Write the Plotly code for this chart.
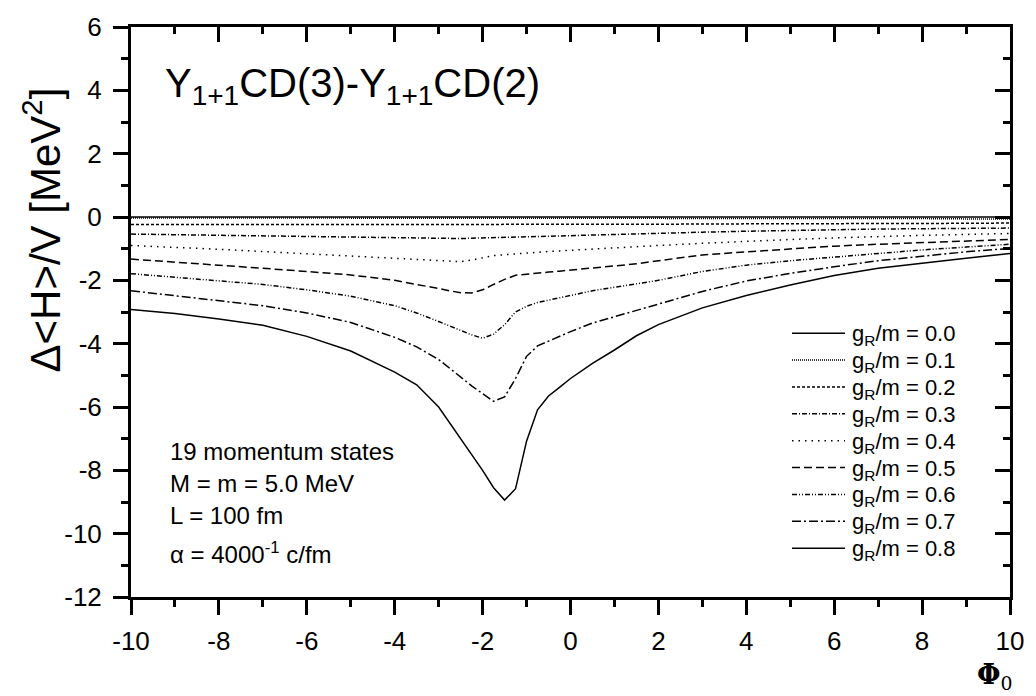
import plotly.graph_objects as go

# ---------------- data ----------------
phi0 = [-10, -9, -8, -7, -6, -5, -4, -3.5, -3, -2.75, -2.5, -2.25, -2, -1.75, -1.5, -1.25,
        -1, -0.75, -0.5, -0.25, 0, 0.5, 1, 1.5, 2, 3, 4, 5, 6, 7, 8, 9, 10]

g00 = [0.0] * 33
g01 = [-0.03, -0.03, -0.03, -0.03, -0.03, -0.03, -0.03, -0.03, -0.03, -0.03, -0.03, -0.03,
       -0.03, -0.03, -0.03, -0.03, -0.03, -0.03, -0.03, -0.03, -0.03, -0.03, -0.03, -0.03,
       -0.03, -0.04, -0.04, -0.04, -0.05, -0.05, -0.05, -0.06, -0.06]
g02 = [-0.24, -0.24, -0.24, -0.24, -0.25, -0.25, -0.25, -0.25, -0.25, -0.25, -0.25, -0.25,
       -0.25, -0.25, -0.25, -0.25, -0.25, -0.25, -0.25, -0.25, -0.25, -0.24, -0.24, -0.23,
       -0.23, -0.22, -0.22, -0.21, -0.21, -0.2, -0.2, -0.2, -0.19]
g03 = [-0.54, -0.56, -0.58, -0.6, -0.62, -0.64, -0.67, -0.68, -0.69, -0.69, -0.68, -0.67,
       -0.66, -0.65, -0.64, -0.63, -0.62, -0.61, -0.6, -0.59, -0.58, -0.56, -0.55, -0.53,
       -0.51, -0.48, -0.45, -0.42, -0.4, -0.38, -0.37, -0.36, -0.35]
g04 = [-0.9, -0.95, -1.02, -1.09, -1.16, -1.23, -1.3, -1.34, -1.39, -1.41, -1.41, -1.36,
       -1.28, -1.22, -1.19, -1.16, -1.13, -1.11, -1.09, -1.07, -1.05, -1.0, -0.98, -0.94,
       -0.9, -0.83, -0.76, -0.71, -0.66, -0.61, -0.58, -0.55, -0.52]
g05 = [-1.33, -1.42, -1.52, -1.62, -1.72, -1.83, -2.0, -2.12, -2.26, -2.33, -2.39, -2.4,
       -2.3, -2.13, -1.97, -1.84, -1.8, -1.77, -1.74, -1.71, -1.68, -1.62, -1.56, -1.48,
       -1.38, -1.2, -1.1, -1.0, -0.92, -0.86, -0.81, -0.76, -0.71]
g06 = [-1.79, -1.9, -2.0, -2.13, -2.3, -2.5, -2.8, -3.03, -3.3, -3.45, -3.58, -3.72,
       -3.83, -3.7, -3.4, -3.0, -2.82, -2.7, -2.63, -2.56, -2.48, -2.33, -2.22, -2.12,
       -2.0, -1.72, -1.52, -1.38, -1.26, -1.14, -1.04, -0.95, -0.86]
g07 = [-2.33, -2.48, -2.63, -2.8, -3.03, -3.33, -3.8, -4.1, -4.5, -4.78, -5.05, -5.33,
       -5.58, -5.82, -5.68, -5.1, -4.4, -4.07, -3.92, -3.77, -3.62, -3.35, -3.15, -2.95,
       -2.76, -2.35, -2.02, -1.78, -1.57, -1.38, -1.24, -1.1, -0.99]
g08 = [-2.92, -3.05, -3.22, -3.42, -3.77, -4.23, -4.9, -5.3, -6.0, -6.5, -7.0, -7.5,
       -8.0, -8.55, -8.94, -8.58, -7.08, -6.09, -5.65, -5.38, -5.1, -4.62, -4.2, -3.75,
       -3.4, -2.87, -2.48, -2.15, -1.85, -1.62, -1.45, -1.3, -1.15]

series = [g00, g01, g02, g03, g04, g05, g06, g07, g08]
ratios = ["0.0", "0.1", "0.2", "0.3", "0.4", "0.5", "0.6", "0.7", "0.8"]
dashes = ["solid", "1px,1px", "3px,2px", "5px,2px,1px,2px", "1.5px,5px", "8px,4px",
          "5px,2px,1px,2px,1px,2px", "9px,3px,2px,3px", "solid"]

x_ticks = list(range(-10, 11, 2))
x_tick_text = [str(v) for v in x_ticks]
y_ticks = list(range(-12, 7, 2))
y_tick_text = [str(v) for v in y_ticks]

# ---------------- layout geometry ----------------
W, H = 1036, 696
L, R, T, B = 131, 1010, 20, 597
FONT = "Arial, Liberation Sans, sans-serif"


def px(xp):
    return (xp - L) / (R - L)


def py(yp):
    return (B - yp) / (B - T)


fig = go.Figure()
for name, ys, d in zip(ratios, series, dashes):
    fig.add_trace(go.Scatter(x=phi0, y=ys, mode="lines", name=f"g<sub>R</sub>/m = {name}",
                             line=dict(color="black", width=1.5, dash=d), showlegend=False))

# legend drawn as line samples + labels
for i, (name, d) in enumerate(zip(ratios, dashes)):
    yc = 330 + 27.2 * i
    fig.add_shape(type="line", xref="paper", yref="paper", x0=px(792), x1=px(845),
                  y0=py(yc), y1=py(yc), line=dict(color="black", width=1.5, dash=d))
    fig.add_annotation(xref="paper", yref="paper", x=px(850), y=py(yc + 2), xanchor="left",
                       yanchor="middle", showarrow=False,
                       text=f"g<sub>R</sub>/m = {name}",
                       font=dict(family=FONT, size=22, color="black"))

# title inside plot
fig.add_annotation(xref="paper", yref="paper", x=px(163), y=py(80), xanchor="left",
                   yanchor="middle", showarrow=False,
                   text="Y<sub>1+1</sub>CD(3)-Y<sub>1+1</sub>CD(2)",
                   font=dict(family=FONT, size=40, color="black"))

# parameter block
info = ["19 momentum states", "M = m = 5.0 MeV", "L = 100 fm", "α = 4000<sup>-1</sup> c/fm"]
info_y = [450, 482, 515, 552]
for t, yy in zip(info, info_y):
    fig.add_annotation(xref="paper", yref="paper", x=px(168), y=py(yy), xanchor="left",
                       yanchor="middle", showarrow=False, text=t,
                       font=dict(family=FONT, size=24, color="black"))

# axis titles
fig.add_annotation(xref="paper", yref="paper", x=px(42), y=py(226), xanchor="center",
                   yanchor="middle", showarrow=False, textangle=-90,
                   text="Δ<H>/V [MeV<sup>2</sup>]",
                   font=dict(family=FONT, size=42, color="black"))
fig.add_annotation(xref="paper", yref="paper", x=px(1015), y=py(697), xanchor="right",
                   yanchor="bottom", showarrow=False,
                   text="<b>Φ</b><sub>0</sub>",
                   font=dict(family="DejaVu Serif, serif", size=27, color="black"))

axis_common = dict(showgrid=False, zeroline=False, showline=True, linecolor="black",
                   linewidth=3, tickcolor="black", tickwidth=3,
                   tickfont=dict(family=FONT, size=26, color="black"))

fig.update_layout(
    width=W, height=H,
    margin=dict(l=L, r=W - R, t=T, b=H - B),
    paper_bgcolor="white", plot_bgcolor="white",
    showlegend=False,
    xaxis=dict(range=[-10, 10], tickvals=x_ticks, ticktext=x_tick_text, ticks="outside",
               ticklen=15, ticklabelstandoff=4,
               minor=dict(dtick=1, ticks="outside", ticklen=7, tickwidth=3, tickcolor="black"),
               **axis_common),
    yaxis=dict(range=[-12, 6], tickvals=y_ticks, ticktext=y_tick_text, ticks="outside",
               ticklen=15, ticklabelstandoff=6,
               minor=dict(dtick=1, ticks="outside", ticklen=7, tickwidth=3, tickcolor="black"),
               **axis_common),
    xaxis2=dict(range=[-10, 10], overlaying="x", side="top", tickvals=x_ticks,
                ticks="inside", ticklen=15, showticklabels=False,
                minor=dict(dtick=1, ticks="inside", ticklen=7, tickwidth=3, tickcolor="black"),
                **axis_common),
    yaxis2=dict(range=[-12, 6], overlaying="y", side="right", tickvals=y_ticks,
                ticks="inside", ticklen=15, showticklabels=False,
                minor=dict(dtick=1, ticks="inside", ticklen=7, tickwidth=3, tickcolor="black"),
                **axis_common),
)
# invisible trace so the mirrored axes are drawn
fig.add_trace(go.Scatter(x=[-10, 10], y=[-12, 6], xaxis="x2", yaxis="y2", mode="lines",
                         line=dict(width=0), hoverinfo="skip", showlegend=False, opacity=0))

fig.write_html("out.html", config={"displayModeBar": False},
               post_script="document.body.style.margin='0';")
